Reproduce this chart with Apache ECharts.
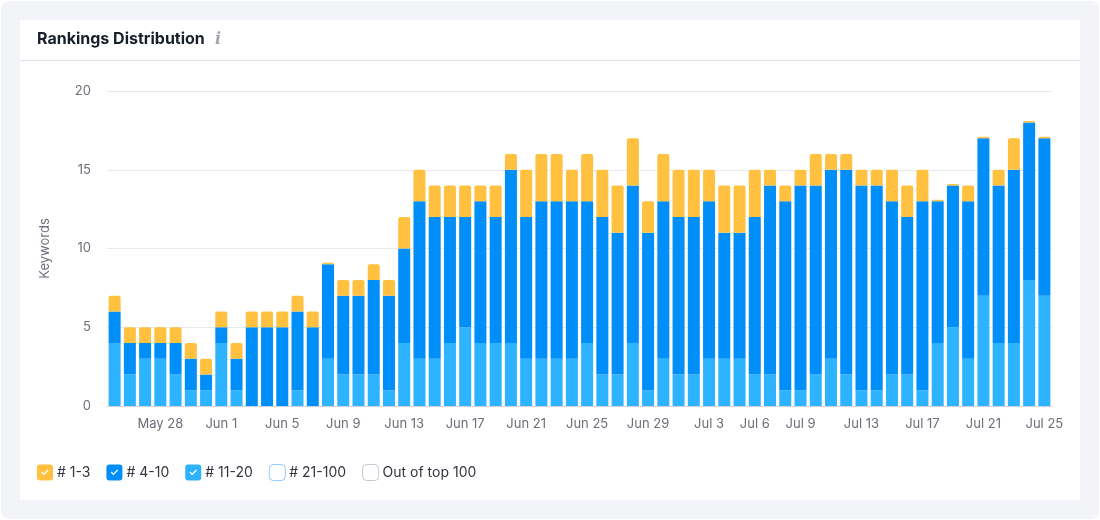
<!DOCTYPE html>
<html>
<head>
<meta charset="utf-8">
<script src="https://cdn.jsdelivr.net/npm/echarts@6/dist/echarts.min.js"></script>
<style>
  html, body { margin: 0; padding: 0; background: #fff; }
  #chart { width: 1100px; height: 520px; }
</style>
</head>
<body>
<div id="chart"></div>
<script>
var days = [
  'May 25', 'May 26', 'May 27', 'May 28', 'May 29', 'May 30', 'May 31',
  'Jun 1', 'Jun 2', 'Jun 3', 'Jun 4', 'Jun 5', 'Jun 6', 'Jun 7', 'Jun 8', 'Jun 9',
  'Jun 10', 'Jun 11', 'Jun 12', 'Jun 13', 'Jun 14', 'Jun 15', 'Jun 16', 'Jun 17',
  'Jun 18', 'Jun 19', 'Jun 20', 'Jun 21', 'Jun 22', 'Jun 23', 'Jun 24', 'Jun 25',
  'Jun 26', 'Jun 27', 'Jun 28', 'Jun 29', 'Jun 30', 'Jul 1', 'Jul 2', 'Jul 3',
  'Jul 4', 'Jul 5', 'Jul 6', 'Jul 7', 'Jul 8', 'Jul 9', 'Jul 10', 'Jul 11', 'Jul 12',
  'Jul 13', 'Jul 14', 'Jul 15', 'Jul 16', 'Jul 17', 'Jul 18', 'Jul 19', 'Jul 20',
  'Jul 21', 'Jul 22', 'Jul 23', 'Jul 24', 'Jul 25'
]
var tickDays = [
  'May 28', 'Jun 1', 'Jun 5', 'Jun 9', 'Jun 13', 'Jun 17', 'Jun 21', 'Jun 25',
  'Jun 29', 'Jul 3', 'Jul 6', 'Jul 9', 'Jul 13', 'Jul 17', 'Jul 21', 'Jul 25'
]

var rank11to20 = [
  4, 2, 3, 3, 2, 1, 1, 4, 1, 0, 0, 0, 1, 0, 3, 2, 2, 2, 1, 4, 3,
  3, 4, 5, 4, 4, 4, 3, 3, 3, 3, 4, 2, 2, 4, 1, 3, 2, 2, 3, 3,
  3, 2, 2, 1, 1, 2, 3, 2, 1, 1, 2, 2, 1, 4, 5, 3, 7, 4, 4, 8, 7
]
var rank4to10 = [
  2, 2, 1, 1, 2, 2, 1, 1, 2, 5, 5, 5, 5, 5, 6, 5, 5, 6, 6, 6, 10,
  9, 8, 7, 9, 8, 11, 9, 10, 10, 10, 9, 10, 9, 10, 10, 10, 10, 10, 10, 8,
  8, 10, 12, 12, 13, 12, 12, 13, 13, 13, 11, 10, 12, 9, 9, 10, 10, 10, 11, 10, 10
]
var rank1to3 = [
  1, 1, 1, 1, 1, 1, 1, 1, 1, 1, 1, 1, 1, 1, 0.1, 1, 1, 1, 1, 2, 2,
  2, 2, 2, 1, 2, 1, 3, 3, 3, 2, 3, 3, 3, 3, 2, 3, 3, 3, 2, 3,
  3, 3, 1, 1, 1, 2, 1, 1, 1, 1, 2, 2, 2, 0.1, 0.1, 1, 0.1, 1, 2, 0.1, 0.1
]
var rank21to100 = []
var rankOutside = []

var checkedIcon = 'path://M3 0H13A3 3 0 0 1 16 3V13A3 3 0 0 1 13 16H3A3 3 0 0 1 0 13V3A3 3 0 0 1 3 0Z' +
  'M4.3 8L6.9 10.7L11.7 5.9L10.8 5L6.9 8.9L5.2 7.1Z'

var fontName = 'Inter'
var tickColor = '#6c6e79'

var chart = echarts.init(document.getElementById('chart'), null, { renderer: 'canvas' })

function barSeries(name, values, color, radius) {
  return {
    name: name,
    type: 'bar',
    stack: 'rank',
    barWidth: 12,
    data: values,
    itemStyle: { color: color, borderRadius: radius || 0 }
  }
}

chart.setOption({
  animation: false,
  textStyle: { fontFamily: fontName },
  graphic: [
    { type: 'rect', z: -3, shape: { x: 1, y: 1, width: 1098, height: 518, r: 8 }, style: { fill: '#f3f4f8' } },
    { type: 'rect', z: -2, shape: { x: 20, y: 20, width: 1060, height: 480 }, style: { fill: '#ffffff' } },
    { type: 'rect', z: -1, shape: { x: 20, y: 60, width: 1060, height: 1 }, style: { fill: '#e0e1e9' } },
    {
      type: 'text', z: 5, x: 215, y: 32,
      style: { text: 'i', fill: '#a4a6b3', font: 'italic bold 16px "DejaVu Serif"' }
    }
  ],
  title: {
    text: 'Rankings Distribution',
    left: 37,
    top: 31,
    padding: 0,
    textStyle: { fontFamily: fontName, fontSize: 16, fontWeight: 700, color: '#181e2a' }
  },
  legend: {
    left: 37,
    top: 464,
    padding: 0,
    itemWidth: 16,
    itemHeight: 16,
    itemGap: 16,
    selectedMode: false,
    textStyle: { fontFamily: fontName, fontSize: 14, color: '#333640', padding: [0, 0, 0, -1] },
    data: [
      { name: '# 1-3', icon: checkedIcon },
      { name: '# 4-10', icon: checkedIcon },
      { name: '# 11-20', icon: checkedIcon },
      { name: '# 21-100', icon: 'roundRect', itemStyle: { color: '#ffffff', borderColor: '#8fcbff', borderWidth: 1 } },
      { name: 'Out of top 100', icon: 'roundRect', itemStyle: { color: '#ffffff', borderColor: '#c4c7d6', borderWidth: 1 } }
    ]
  },
  grid: { left: 107, right: 48, top: 91, bottom: 114 },
  xAxis: {
    type: 'category',
    data: days,
    axisTick: { show: false },
    axisLine: { lineStyle: { color: '#cfd1d8', width: 1 } },
    axisLabel: {
      color: tickColor,
      fontSize: 13,
      margin: 12,
      interval: function (i, day) { return tickDays.indexOf(day) >= 0 }
    }
  },
  yAxis: {
    type: 'value',
    min: 0,
    max: 20,
    interval: 5,
    name: 'Keywords',
    nameLocation: 'middle',
    nameRotate: 90,
    nameGap: 55,
    nameTextStyle: { color: tickColor, fontSize: 13 },
    axisLabel: { color: tickColor, fontSize: 13, margin: 16 },
    splitLine: { lineStyle: { color: '#e8e9ee', width: 1 } }
  },
  series: [
    barSeries('# 11-20', rank11to20, '#2db3ff'),
    barSeries('# 4-10', rank4to10, '#008ff8'),
    barSeries('# 1-3', rank1to3, '#ffc13f', [2, 2, 0, 0]),
    barSeries('# 21-100', rank21to100, '#ffffff'),
    barSeries('Out of top 100', rankOutside, '#ffffff')
  ]
})
</script>
</body>
</html>
